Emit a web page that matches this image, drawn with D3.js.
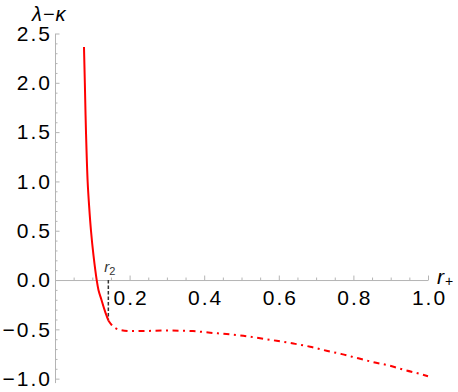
<!DOCTYPE html>
<html>
<head>
<meta charset="utf-8">
<script src="https://cdn.jsdelivr.net/npm/d3@7"></script>
<style>
    body { margin: 0; background: #fff; }
    svg { display: block; font-family: "Liberation Sans", Arial, sans-serif; }
    .axis path, .axis line { stroke: #b4b4b4; stroke-width: 1; }
    .axis text { fill: #000; font-family: "Liberation Sans", Arial, sans-serif; font-size: 21px; letter-spacing: 2px; }
</style>
</head>
<body>
<div id="chart"></div>
<script>
"use strict";

// solid branch (r < r2)
var solidX = [0.0777, 0.0800, 0.0831, 0.0875, 0.0915, 0.0965, 0.1032, 0.1118, 0.1165, 0.1245, 0.1335, 0.1430];
var solidY = [2.363, 2.0, 1.5, 1.0, 0.75, 0.5, 0.25, 0.0, -0.1, -0.2, -0.31, -0.41];

// dot-dashed branch (r > r2)
var dashX = [0.143, 0.152, 0.174, 0.210, 0.250, 0.300, 0.370, 0.416, 0.460, 0.505, 0.550, 0.594,
    0.639, 0.684, 0.728, 0.769, 0.813, 0.853, 0.898, 0.938, 0.983, 1.0];
var dashY = [-0.41, -0.456, -0.505, -0.518, -0.516, -0.512, -0.518, -0.534, -0.548, -0.565, -0.591, -0.616,
    -0.644, -0.676, -0.717, -0.751, -0.794, -0.832, -0.869, -0.913, -0.956, -0.975];

var r2 = 0.143;

var xMajor = [0.2, 0.4, 0.6, 0.8, 1.0];
var xMinor = [0.05, 0.1, 0.15, 0.25, 0.3, 0.35, 0.45, 0.5, 0.55, 0.65, 0.7, 0.75, 0.85, 0.9, 0.95];
var yMajor = [-1.0, -0.5, 0.0, 0.5, 1.0, 1.5, 2.0, 2.5];
var yMinor = [-0.9, -0.8, -0.7, -0.6, -0.4, -0.3, -0.2, -0.1, 0.1, 0.2, 0.3, 0.4,
    0.6, 0.7, 0.8, 0.9, 1.1, 1.2, 1.3, 1.4, 1.6, 1.7, 1.8, 1.9, 2.1, 2.2, 2.3, 2.4];

var W = 458, H = 392;
var svg = d3.select("#chart").append("svg").attr("width", W).attr("height", H);

var x = d3.scaleLinear().domain([0, 1]).range([55, 428]);
var y = d3.scaleLinear().domain([-1.04, 2.5]).range([382.6, 33.5]);

var fmt = d3.format(".1f");

// x axis (ticks point up, labels below)
svg.append("g").attr("class", "axis")
    .attr("transform", "translate(0," + y(0) + ")")
    .call(d3.axisBottom(x).tickValues(xMinor).tickSize(-2.5).tickSizeOuter(0).tickFormat(""));
svg.append("g").attr("class", "axis")
    .attr("transform", "translate(1," + y(0) + ")")
    .call(d3.axisBottom(x).tickValues(xMajor).tickSize(-4.5).tickSizeOuter(0).tickPadding(10).tickFormat(fmt))
    .call(function (g) { g.select(".domain").remove(); g.selectAll("line").attr("transform", "translate(-1,0)"); });

// y axis (ticks point right, labels left)
svg.append("g").attr("class", "axis")
    .attr("transform", "translate(" + x(0) + ",0)")
    .call(d3.axisLeft(y).tickValues(yMinor).tickSize(-2.5).tickSizeOuter(0).tickFormat(""));
svg.append("g").attr("class", "axis")
    .attr("transform", "translate(" + x(0) + ",0)")
    .call(d3.axisLeft(y).tickValues(yMajor).tickSize(-4.5).tickSizeOuter(0).tickPadding(3).tickFormat(fmt))
    .call(function (g) { g.select(".domain").remove(); });

// r2 marker
svg.append("line")
    .attr("x1", x(r2)).attr("x2", x(r2))
    .attr("y1", y(0)).attr("y2", y(solidY[solidY.length - 1]))
    .attr("stroke", "#333").attr("stroke-width", 1.5)
    .attr("stroke-dasharray", "3.5,2");

var rl = svg.append("text").attr("x", x(r2) - 4).attr("y", y(0) - 8)
    .attr("fill", "#333").style("font-size", "15px");
rl.append("tspan").style("font-style", "italic").text("r");
rl.append("tspan").attr("dy", 3).style("font-size", "11px").text("2");

var solidLine = d3.line()
    .curve(d3.curveCatmullRom)
    .x(function (d) { return x(d[0]); })
    .y(function (d) { return y(d[1]); });

var dashLine = d3.line()
    .curve(d3.curveMonotoneX)
    .x(function (d) { return x(d[0]); })
    .y(function (d) { return y(d[1]); });

svg.append("path")
    .datum(d3.zip(solidX, solidY))
    .attr("fill", "none").attr("stroke", "#ff0000").attr("stroke-width", 2)
    .attr("d", solidLine);

svg.append("path")
    .datum(d3.zip(dashX, dashY))
    .attr("fill", "none").attr("stroke", "#ff0000").attr("stroke-width", 2)
    .attr("stroke-dasharray", "6,4.5,2,4.5")
    .attr("d", dashLine);

// axis labels
svg.append("text").attr("x", 32).attr("y", 21)
    .style("font-size", "20px").style("font-style", "italic").style("letter-spacing", "1px")
    .text("λ−κ");

var xl = svg.append("text").attr("x", 437).attr("y", 284).style("font-size", "21px");
xl.append("tspan").style("font-style", "italic").text("r");
xl.append("tspan").attr("dx", 1).attr("dy", 2).style("font-size", "14px").text("+");
</script>
</body>
</html>
